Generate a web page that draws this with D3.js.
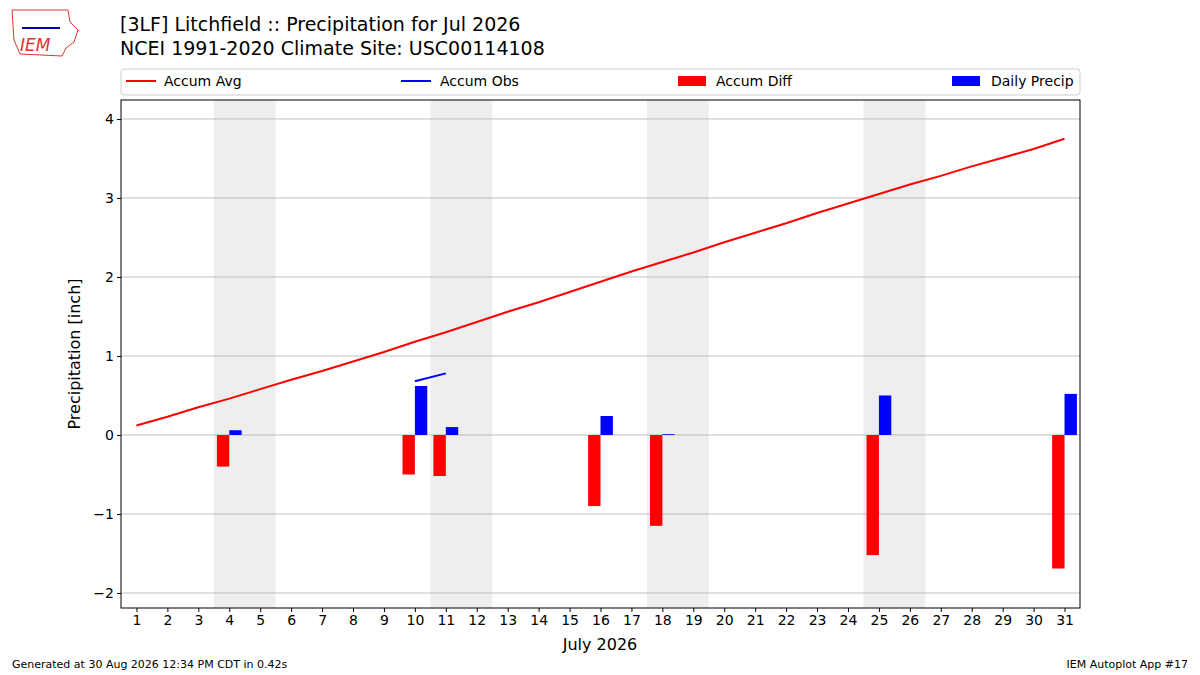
<!DOCTYPE html><html><head><meta charset="utf-8"><script src="https://cdn.jsdelivr.net/npm/d3@7"></script>
<style>body{margin:0;background:#fff}text{font-family:"DejaVu Sans",sans-serif}</style></head><body>
<svg id="c" width="1200" height="675"></svg>
<script>
const days=d3.range(1,32);
const accumAvg=[0.12,0.23,0.35,0.46,0.58,0.70,0.81,0.93,1.05,1.18,1.30,1.43,1.56,1.68,1.81,1.94,2.07,2.19,2.31,2.44,2.56,2.68,2.81,2.93,3.05,3.17,3.28,3.40,3.51,3.62,3.75];
const obsDays=[10,11], accumObs=[0.68,0.78];
const barDays=[4,10,11,16,18,25,31];
const accumDiff=[-0.40,-0.50,-0.52,-0.90,-1.15,-1.52,-1.69];
const dailyPrecip=[0.06,0.62,0.10,0.24,0.01,0.50,0.52];
const weekends=[[3.5,5.5],[10.5,12.5],[17.5,19.5],[24.5,26.5]];
const yTicks=[-2,-1,0,1,2,3,4];
const svg=d3.select("#c");
const L=121,R=1080,T=100,B=608;
const x=d3.scaleLinear().domain([0.5,31.5]).range([L,R]);
const y=d3.scaleLinear().domain([-2.19,4.24]).range([B,T]);
svg.append("g").selectAll("rect").data(weekends).join("rect").attr("x",d=>x(d[0])).attr("width",d=>x(d[1])-x(d[0])).attr("y",T).attr("height",B-T).attr("fill","#eeeeee");
svg.append("g").selectAll("line").data(yTicks).join("line").attr("x1",L).attr("x2",R).attr("y1",d=>y(d)).attr("y2",d=>y(d)).attr("stroke","#b0b0b0").attr("stroke-width",0.8);
svg.append("g").selectAll("rect").data(barDays).join("rect").attr("x",d=>x(d-0.4)).attr("width",x(0.4)-x(0)).attr("y",(d,i)=>y(Math.max(0,accumDiff[i]))).attr("height",(d,i)=>Math.abs(y(accumDiff[i])-y(0))).attr("fill","#ff0000");
svg.append("g").selectAll("rect").data(barDays).join("rect").attr("x",d=>x(d)).attr("width",x(0.4)-x(0)).attr("y",(d,i)=>y(dailyPrecip[i])).attr("height",(d,i)=>y(0)-y(dailyPrecip[i])).attr("fill","#0000ff");
svg.append("path").attr("d",d3.line().x((d,i)=>x(days[i])).y(d=>y(d))(accumAvg)).attr("fill","none").attr("stroke","#ff0000").attr("stroke-width",2);
svg.append("path").attr("d",d3.line().x((d,i)=>x(obsDays[i])).y(d=>y(d))(accumObs)).attr("fill","none").attr("stroke","#0000ff").attr("stroke-width",2);
svg.append("rect").attr("x",L).attr("y",T).attr("width",R-L).attr("height",B-T).attr("fill","none").attr("stroke","#000").attr("stroke-width",1);
const xa=svg.append("g").attr("transform",`translate(0,${B})`).call(d3.axisBottom(x).tickValues(days).tickSize(4).tickSizeOuter(0));
const ya=svg.append("g").attr("transform",`translate(${L},0)`).call(d3.axisLeft(y).tickValues(yTicks).tickSize(4).tickSizeOuter(0).tickFormat(d=>d<0?"\u2212"+(-d):d));
[xa,ya].forEach(a=>{a.select(".domain").remove();a.selectAll("text").attr("font-size",14).attr("fill","#000").attr("font-family","DejaVu Sans");});
svg.append("text").attr("x",600).attr("y",650).attr("text-anchor","middle").attr("font-size",16).text("July 2026");
svg.append("text").attr("transform","translate(80,354) rotate(-90)").attr("text-anchor","middle").attr("font-size",16).text("Precipitation [inch]");
svg.append("text").attr("x",120).attr("y",31).attr("font-size",19).text("[3LF] Litchfield :: Precipitation for Jul 2026");
svg.append("text").attr("x",120).attr("y",55).attr("font-size",19).text("NCEI 1991-2020 Climate Site: USC00114108");
// legend
svg.append("rect").attr("x",121).attr("y",69).attr("width",959).attr("height",26).attr("rx",3).attr("fill","#fff").attr("stroke","#ccc");
const lg=svg.append("g").attr("font-size",14);
lg.append("line").attr("x1",126).attr("x2",156).attr("y1",81).attr("y2",81).attr("stroke","#f00").attr("stroke-width",2);
lg.append("text").attr("x",164).attr("y",86).text("Accum Avg");
lg.append("line").attr("x1",401).attr("x2",431).attr("y1",81).attr("y2",81).attr("stroke","#00f").attr("stroke-width",2);
lg.append("text").attr("x",440).attr("y",86).text("Accum Obs");
lg.append("rect").attr("x",678).attr("y",76).attr("width",28).attr("height",10).attr("fill","#f00");
lg.append("text").attr("x",716).attr("y",86).text("Accum Diff");
lg.append("rect").attr("x",952).attr("y",76).attr("width",28).attr("height",10).attr("fill","#00f");
lg.append("text").attr("x",991).attr("y",86).text("Daily Precip");
svg.append("text").attr("x",12).attr("y",668).attr("font-size",11).text("Generated at 30 Aug 2026 12:34 PM CDT in 0.42s");
svg.append("text").attr("x",1188).attr("y",668).attr("font-size",11).attr("text-anchor","end").text("IEM Autoplot App #17");
// logo
svg.append("path").attr("d","M12,10 L68,10 L70,22 L78,30 L74,42 L66,48 L62,56 L20,54 L14,40 Z").attr("fill","none").attr("stroke","#d33").attr("stroke-width",1);
svg.append("text").attr("x",20).attr("y",51).attr("font-size",17).attr("font-style","italic").attr("font-family","Liberation Serif").attr("fill","#d33").text("IEM");
svg.append("line").attr("x1",22).attr("x2",60).attr("y1",28).attr("y2",28).attr("stroke","#00a").attr("stroke-width",2);
</script></body></html>
